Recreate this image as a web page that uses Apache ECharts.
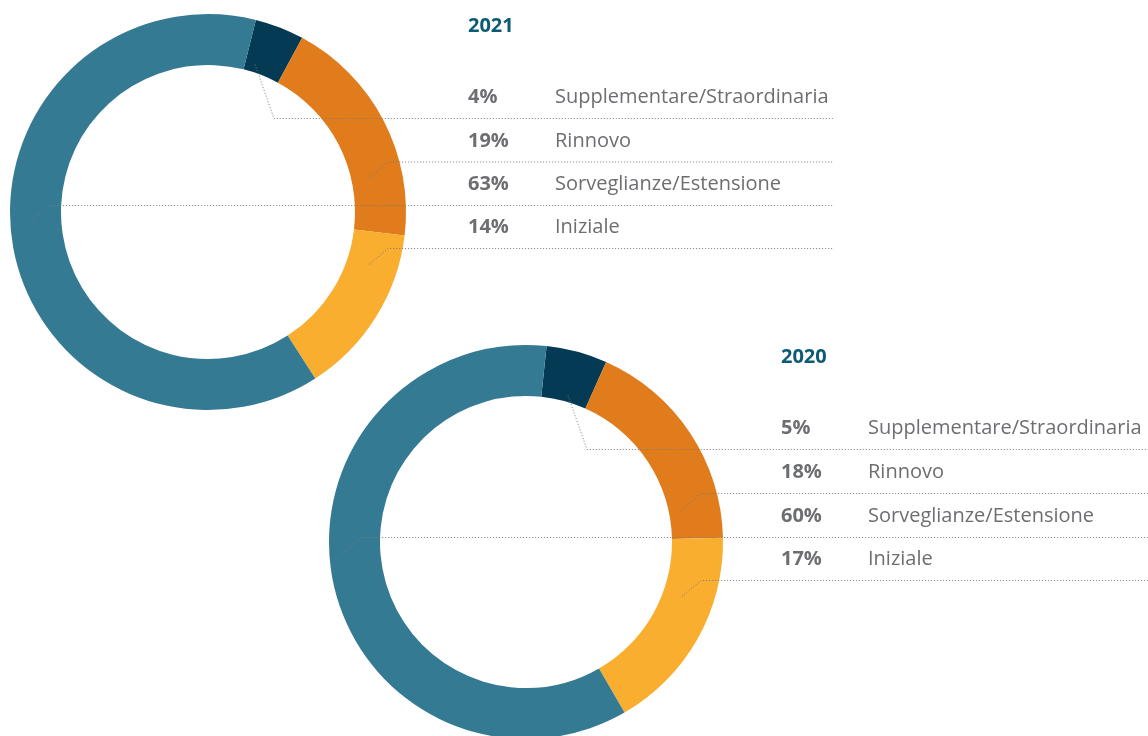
<!DOCTYPE html>
<html>
<head>
<meta charset="utf-8">
<script src="https://cdn.jsdelivr.net/npm/echarts@6/dist/echarts.min.js"></script>
<style>
  html, body { margin: 0; padding: 0; background: #fff; }
  #chart { width: 1148px; height: 736px; }
</style>
</head>
<body>
<div id="chart"></div>
<script>
// slices in clockwise order, starting at the top
const categories = ['Supplementare/Straordinaria', 'Rinnovo', 'Iniziale', 'Sorveglianze/Estensione'];
const values2021 = [4, 19, 14, 63];
const values2020 = [5, 18, 17, 60];
// order of the rows in the label lists
const rowOrder = ['Supplementare/Straordinaria', 'Rinnovo', 'Sorveglianze/Estensione', 'Iniziale'];
const years = ['2021', '2020'];

const colors = ['#053a55', '#e07c1c', '#f9ae2f', '#357a93'];
const grey = '#6d6e71';
const font = 'Open Sans';

// layout of each donut + its label list
const layouts = [
  { center: [208, 212], radius: [147, 198], startAngle: 76, textX: 468, rowY: [118, 161.5, 205, 248], lineEnd: 833, leaderDx: [47, 161, 161, -178] },
  { center: [526, 542], radius: [146, 197], startAngle: 84, textX: 781, rowY: [449, 493, 537, 580], lineEnd: 1148, leaderDx: [42, 156, 156, -183] }
];

// the donut itself
function ringSeries(values, cfg) {
  return {
    type: 'pie',
    z: 2,
    center: cfg.center,
    radius: cfg.radius,
    startAngle: cfg.startAngle,
    silent: true,
    label: { show: false },
    labelLine: { show: false },
    data: categories.map((name, i) => ({ name, value: values[i], itemStyle: { color: colors[i] } }))
  };
}

// same pie, transparent, only to put labels + dotted leaders above the ring
function labelSeries(values, cfg) {
  return {
    type: 'pie',
    z: 5,
    center: cfg.center,
    radius: cfg.radius,
    startAngle: cfg.startAngle,
    silent: true,
    avoidLabelOverlap: false,
    itemStyle: { color: 'transparent' },
    data: categories.map((name, i) => ({ name, value: values[i] })),
    label: {
      show: true,
      position: 'outside',
      formatter: p => '{p|' + p.value + '%}{n|' + p.name + '}',
      rich: {
        p: { width: 87, fontFamily: font, fontWeight: 'bold', fontSize: 20, color: grey },
        n: { fontFamily: font, fontSize: 20, color: grey }
      }
    },
    labelLine: {
      show: true,
      lineStyle: { color: '#7a7a7a', width: 1, type: [1, 2] }
    },
    labelLayout: params => {
      const i = params.dataIndex;
      const row = rowOrder.indexOf(categories[i]);
      const y = cfg.rowY[row] + 0.5;
      // navy leader drops from above, the others rise from just below the row
      const sx = cfg.center[0] + cfg.leaderDx[i];
      const sy = i === 0 ? y - 54 : y + 16;
      return {
        x: cfg.textX,
        y: y - 21,
        align: 'left',
        verticalAlign: 'middle',
        labelLinePoints: [[sx, sy], [sx + 19, y], [cfg.lineEnd, y]]
      };
    }
  };
}

const chart = echarts.init(document.getElementById('chart'));
chart.setOption({
  backgroundColor: '#fff',
  animation: false,
  title: years.map((y, k) => ({
    text: y,
    left: layouts[k].textX,
    top: k === 0 ? 16 : 347,
    padding: 0,
    textStyle: { fontFamily: font, fontWeight: 'bold', fontSize: 20, color: '#0c5b74' }
  })),
  series: [
    ringSeries(values2021, layouts[0]),
    ringSeries(values2020, layouts[1]),
    labelSeries(values2021, layouts[0]),
    labelSeries(values2020, layouts[1])
  ]
});
</script>
</body>
</html>
